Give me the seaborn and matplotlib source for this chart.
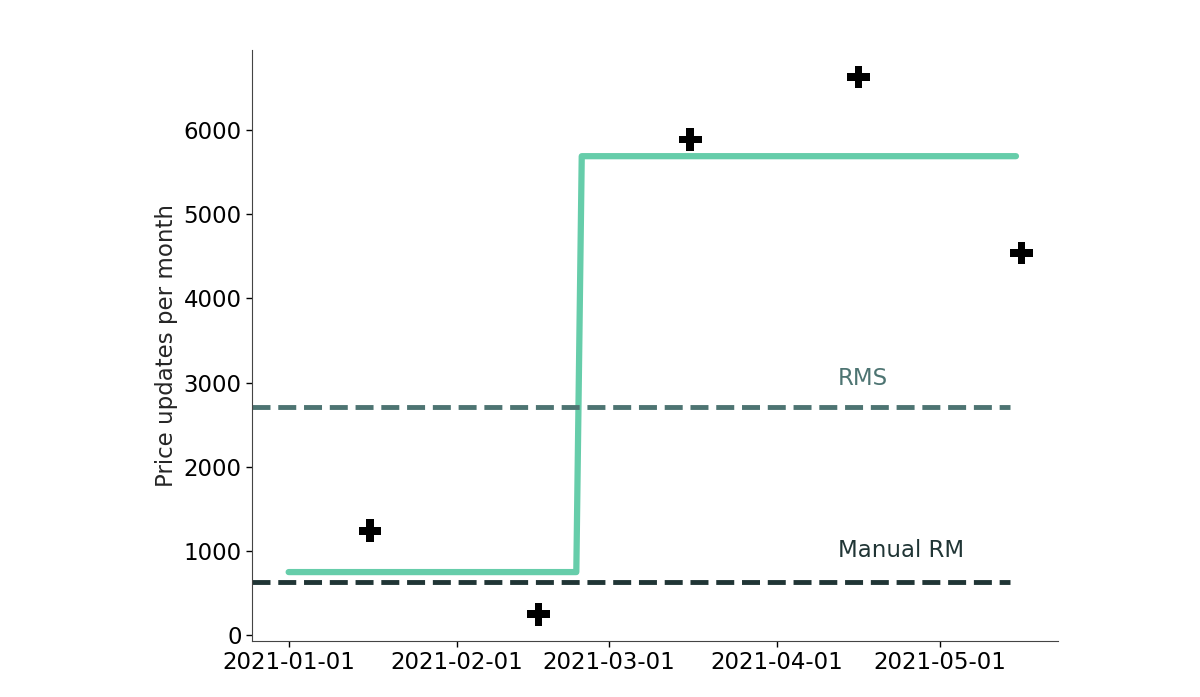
import pandas as pd
import numpy as np
import matplotlib
matplotlib.use('Agg')
import matplotlib.pyplot as plt
import matplotlib.dates as mdates
import seaborn as sns

# ── Datos ─────────────────────────────────────────────
fechas_linea = ['2021-01-01', '2021-02-23', '2021-02-24', '2021-05-15']
valores_linea = [750, 750, 5690, 5690]

fechas_mes = ['2021-01-16', '2021-02-16', '2021-03-16', '2021-04-16', '2021-05-16']
valores_mes = [1240, 250, 5890, 6630, 4540]

nivel_rms = 2710
nivel_manual = 635

# ── Estilo ────────────────────────────────────────────
sns.set_style('white')
plt.rcParams.update({
    'font.family': ['DejaVu Sans'],
    'font.size': 16.5,
    'axes.edgecolor': '#444444',
})

df_linea = pd.DataFrame({'fecha': pd.to_datetime(fechas_linea), 'valor': valores_linea})
df_mes = pd.DataFrame({'fecha': pd.to_datetime(fechas_mes), 'valor': valores_mes})

fig = plt.figure(figsize=(12, 6.97), dpi=100)
ax = fig.add_axes([0.21, 0.0803, 0.6717, 0.8477])

sns.lineplot(data=df_linea, x='fecha', y='valor', color='#66CDAA', lw=4.5, ax=ax)
sns.scatterplot(data=df_mes, x='fecha', y='valor', marker='P', s=270,
                color='black', edgecolor='none', ax=ax, zorder=5)

ax.axhline(nivel_rms, xmax=0.94, color='#4D7472', lw=3.5, ls='--')
ax.axhline(nivel_manual, xmax=0.94, color='#203535', lw=3.5, ls='--')

ax.text(pd.Timestamp('2021-04-12 06:00'), nivel_rms + 340, 'RMS', color='#4D7472',
        fontsize=16.5, va='center')
ax.text(pd.Timestamp('2021-04-12 06:00'), nivel_manual + 370, 'Manual RM', color='#203535',
        fontsize=16.5, va='center')

ax.xaxis.set_major_locator(mdates.MonthLocator())
ax.xaxis.set_major_formatter(mdates.DateFormatter('%Y-%m-%d'))
ax.tick_params(axis='both', labelsize=16.5, length=4, width=1, colors='black',
               direction='out', bottom=True, left=True)
ax.set_xlabel('')
ax.set_ylabel('Price updates per month', fontsize=16.5)
sns.despine(ax=ax)

fig.savefig('out.png', dpi=100, facecolor='white')
